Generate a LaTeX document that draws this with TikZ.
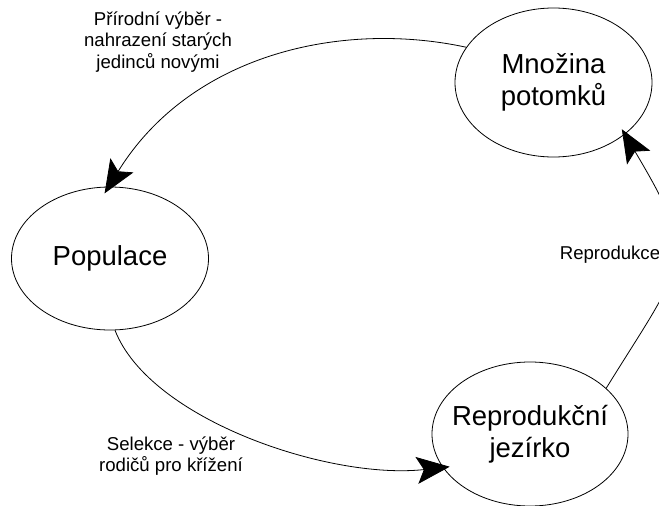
\documentclass[tikz,border=0pt]{standalone}
\usepackage{fontspec}
\setmainfont{Liberation Sans}
\usetikzlibrary{shapes.geometric,arrows.meta}
\begin{document}
\begin{tikzpicture}[x=1pt,y=-1pt,
  state/.style={ellipse,draw,line width=0.8pt,inner sep=-25pt,align=center,
    font=\fontsize{27.5}{32}\selectfont},
  lbl/.style={align=center,font=\fontsize{18.6}{21.5}\selectfont,inner sep=0pt},
  conn/.style={line width=0.8pt,-{Stealth[length=33pt,width=27pt,inset=7pt]}}]
\clip (0,0) rectangle (659,506);
\node[state,minimum width=197pt,minimum height=143pt] (pop) at (110,258.5) {Populace};
\node[state,minimum width=197pt,minimum height=149pt] (mn) at (553.5,82.5) {Množina\\potomků};
\node[state,minimum width=196pt,minimum height=144pt] (jez) at (530,434) {Reprodukční\\jezírko};
\draw[conn,shorten >=-8pt] (mn.158) .. controls (340,20) and (190,55) .. (pop.91);
\draw[conn,shorten >=-7pt] (pop.274) .. controls (150,420) and (330,480) .. (jez.201);
\draw[conn,shorten >=-6pt] (jez.31) .. controls (686,259) and (700,261) .. (mn.324);
\node[lbl] (l1) at (158,42) {Přírodní výběr -\\nahrazení starých\\jedinců novými};
\node[lbl] (l2) at (171,456) {Selekce - výběr\\rodičů pro křížení};
\node[lbl] (l3) at (610,255) {Reprodukce};
\end{tikzpicture}
\end{document}
